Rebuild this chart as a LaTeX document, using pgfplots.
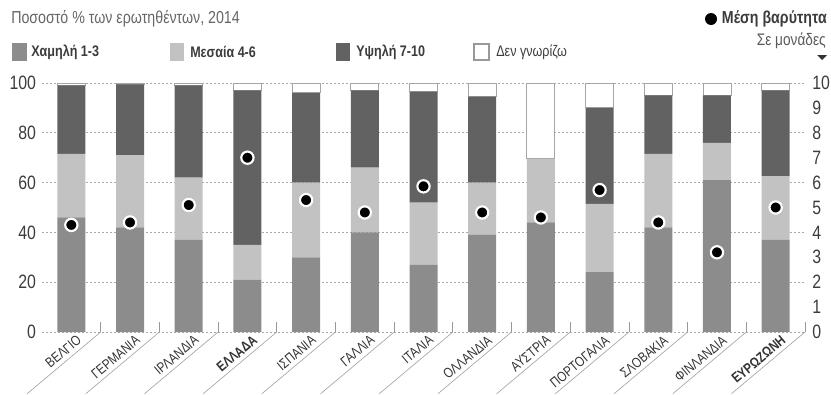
\documentclass[border=0pt]{standalone}
\usepackage{pgfplots}
\pgfplotsset{compat=1.18}
\usepackage{pgfplotstable}
\usepackage{fontspec}
\setmainfont{Liberation Sans}[FakeStretch=0.82]

\definecolor{lowc}{HTML}{8C8C8C}
\definecolor{midc}{HTML}{C2C2C2}
\definecolor{highc}{HTML}{626262}
\definecolor{gridc}{HTML}{A8A8A8}
\definecolor{txtc}{HTML}{3C3C3C}

% shares of respondents (%) and mean rating (units)
\pgfplotstableread{
idx low  mid  high dk   mean
0   46   25.5 27.5 1    4.3
1   42   29   28.5 0.5  4.4
2   37   25   37   1    5.1
3   21   14   62   3    7.0
4   30   30   36   4    5.3
5   40   26   31   3    4.8
6   27   25   44.5 3.5  5.85
7   39   21   34.5 5.5  4.8
8   44   25.5 0    30.5 4.6
9   24   27.5 38.5 10   5.7
10  42   29.5 23.5 5    4.4
11  61   15   19   5    3.2
12  37   25.5 34.5 3    5.0
}\survey

% pixel-style helper: (x from left, y from top)
\newcommand\px[2]{({(#1-42)*0.75pt},{(332-#2)*0.75pt})}

\begin{document}
\begin{tikzpicture}
\useasboundingbox \px{0}{394} rectangle \px{831}{0};

\begin{axis}[
  scale only axis, width=572.25pt, height=186.75pt,
  xmin=-0.5, xmax=12.5, ymin=0, ymax=100,
  ybar stacked, bar width=21pt,
  axis line style={draw=none},
  ytick={0,20,...,100}, ytick pos=left,
  ymajorgrids, grid style={gridc, line width=0.7pt, dash pattern=on 1.2pt off 1.8pt},
  xtick={0,...,12}, xtick pos=bottom,
  xticklabels={ΒΕΛΓΙΟ, ΓΕΡΜΑΝΙΑ, ΙΡΛΑΝΔΙΑ, \textbf{ΕΛΛΑΔΑ}, ΙΣΠΑΝΙΑ, ΓΑΛΛΙΑ, ΙΤΑΛΙΑ, ΟΛΛΑΝΔΙΑ, ΑΥΣΤΡΙΑ, ΠΟΡΤΟΓΑΛΙΑ, ΣΛΟΒΑΚΙΑ, ΦΙΝΛΑΝΔΙΑ, \textbf{ΕΥΡΩΖΩΝΗ}},
  major tick length=0pt,
  minor xtick={0.5,1.5,...,12.5}, minor tick length=7.5pt,
  minor tick style={gray!80, line width=0.6pt},
  x tick label style={rotate=40, anchor=north east, inner sep=0.5pt, yshift=-3pt, xshift=2pt,
    font=\fontsize{10.5}{11}\selectfont, text=black!80},
  y tick label style={font=\fontsize{14.5}{15}\selectfont, text=txtc, xshift=-1pt},
  /pgf/number format/assume math mode=true,
  clip=false,
]
\addplot[fill=lowc, draw=none] table[x=idx, y=low] {\survey};
\addplot[fill=midc, draw=none] table[x=idx, y=mid] {\survey};
\addplot[fill=highc, draw=none] table[x=idx, y=high] {\survey};
\addplot[fill=white, draw=gray!70, line width=0.7pt] table[x=idx, y=dk] {\survey};
\pgfplotsinvokeforeach{0,...,12}{
  \draw[gray!70, line width=0.5pt] (axis cs:#1+0.5,0) -- ++(220:72pt);
}
\end{axis}

\begin{axis}[
  scale only axis, width=572.25pt, height=186.75pt,
  xmin=-0.5, xmax=12.5, ymin=0, ymax=10,
  axis x line=none, axis y line*=right,
  y axis line style={draw=none},
  ytick={0,...,10}, major tick length=0pt,
  y tick label style={font=\fontsize{14.5}{15}\selectfont, text=txtc, xshift=2pt},
  /pgf/number format/assume math mode=true,
  clip=false,
]
\addplot[only marks, mark=*, mark size=4.6pt,
  mark options={fill=black, draw=white, line width=1.6pt}] table[x=idx, y=mean] {\survey};
\end{axis}

% subtitle and legend
\node[anchor=west, text=black!60, font=\fontsize{13}{14}\selectfont, inner sep=0pt] at \px{11}{19} {Ποσοστό \% των ερωτηθέντων, 2014};

\fill[lowc] \px{12}{43} rectangle \px{27}{61};
\node[anchor=west, inner sep=0pt, font=\bfseries\fontsize{11.5}{13}\selectfont, text=txtc] at \px{31}{52} {Χαμηλή 1-3};
\fill[midc] \px{170}{43} rectangle \px{184}{61};
\node[anchor=west, inner sep=0pt, font=\bfseries\fontsize{11.5}{13}\selectfont, text=txtc] at \px{190}{52} {Μεσαία 4-6};
\fill[highc] \px{336}{43} rectangle \px{350}{61};
\node[anchor=west, inner sep=0pt, font=\bfseries\fontsize{11.5}{13}\selectfont, text=txtc] at \px{356}{52} {Υψηλή 7-10};
\draw[gray!80, line width=0.8pt] \px{474}{44} rectangle \px{489}{60};
\node[anchor=west, inner sep=0pt, font=\fontsize{11.5}{13}\selectfont, text=txtc] at \px{496}{52} {Δεν γνωρίζω};

\fill[black] \px{711}{19} circle (4.5pt);
\node[anchor=east, inner sep=0pt, font=\bfseries\fontsize{13}{14}\selectfont, text=txtc] at \px{827}{19} {Μέση βαρύτητα};
\node[anchor=east, inner sep=0pt, font=\fontsize{12.5}{14}\selectfont, text=black!65] at \px{826}{41} {Σε μονάδες};
\fill[black!80] \px{817}{55} -- \px{827}{55} -- \px{822}{60} -- cycle;
\end{tikzpicture}
\end{document}
